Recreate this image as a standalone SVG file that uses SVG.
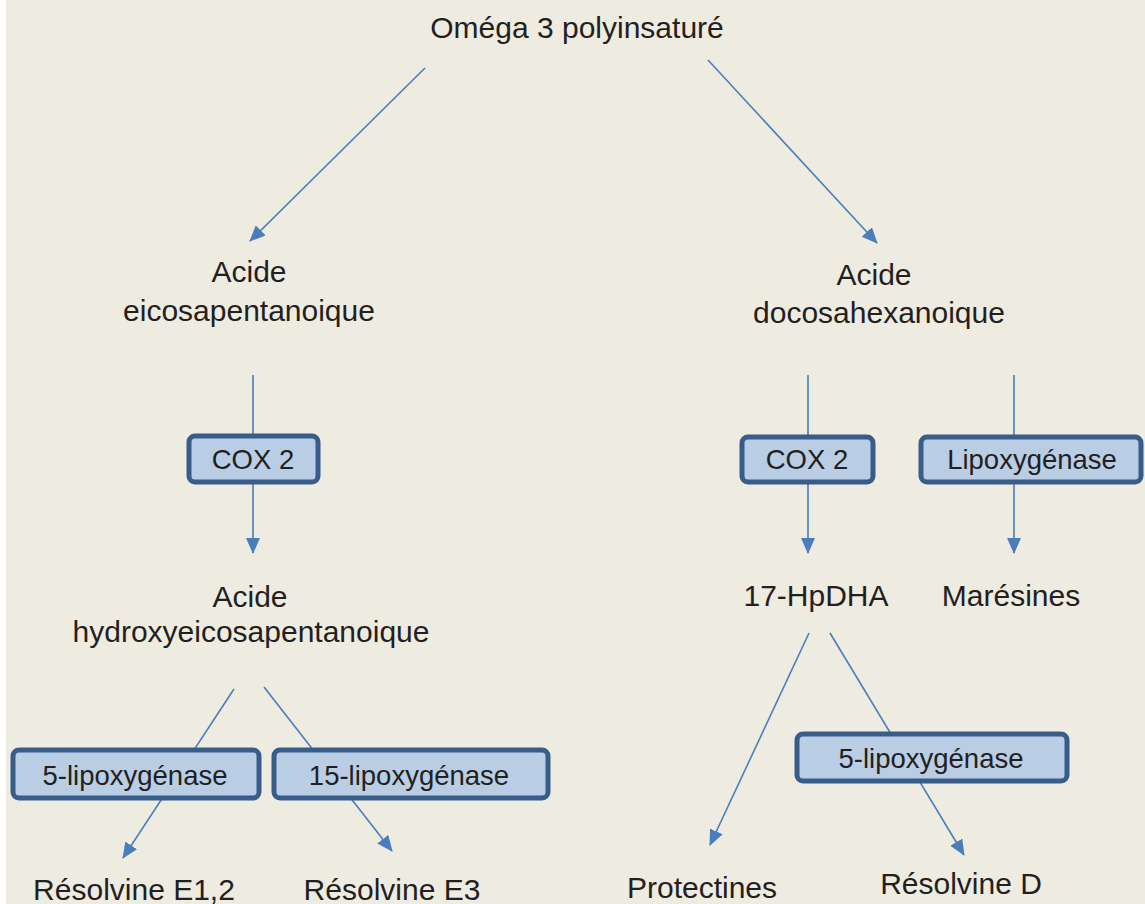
<svg xmlns="http://www.w3.org/2000/svg" width="1145" height="904" viewBox="0 0 1145 904">
<defs>
<marker id="ah" markerUnits="userSpaceOnUse" markerWidth="18" markerHeight="16" refX="15" refY="7" orient="auto">
<path d="M0,0 L16,7 L0,14 Z" fill="#4A7EBB"/>
</marker>
<style>
.t{font-family:"Liberation Sans",Arial,sans-serif;font-size:30px;fill:#231F20;text-anchor:middle}
.bt{font-family:"Liberation Sans",Arial,sans-serif;font-size:27.5px;fill:#231F20;text-anchor:middle}
.box{fill:#B9CDE5;stroke:#385D8A;stroke-width:5}
.c{stroke:#4A7EBB;stroke-width:1.6;fill:none}
.a{marker-end:url(#ah)}
</style>
</defs>
<rect x="0" y="0" width="1145" height="904" fill="#FFFFFF"/>
<rect x="6" y="0" width="1139" height="904" fill="#EEEBE0"/>
<g id="connectors">
<line class="c a" x1="425" y1="68" x2="250" y2="241"/>
<line class="c a" x1="708" y1="60" x2="877" y2="243"/>
<line class="c" x1="253" y1="375" x2="253" y2="436"/>
<line class="c a" x1="253" y1="482" x2="253" y2="553"/>
<line class="c" x1="808" y1="375" x2="808" y2="437"/>
<line class="c a" x1="808" y1="482" x2="808" y2="553"/>
<line class="c" x1="1014" y1="375" x2="1014" y2="437"/>
<line class="c a" x1="1014" y1="482" x2="1014" y2="553"/>
<line class="c a" x1="234" y1="689" x2="123" y2="858"/>
<line class="c a" x1="264" y1="687" x2="392" y2="851"/>
<line class="c a" x1="809" y1="633" x2="710" y2="845"/>
<line class="c a" x1="830" y1="633" x2="964" y2="855"/>
</g>
<g id="n-omega"><text class="t" x="577" y="38">Oméga 3 polyinsaturé</text></g>
<g id="n-epa"><text class="t" x="249" y="282">Acide</text><text class="t" x="249" y="321">eicosapentanoique</text></g>
<g id="n-dha"><text class="t" x="874" y="285">Acide</text><text class="t" x="879" y="323">docosahexanoique</text></g>
<g id="n-cox2-left"><rect class="box" x="189" y="436" width="129" height="46" rx="6"/><text class="bt" x="253" y="469">COX 2</text></g>
<g id="n-cox2-right"><rect class="box" x="742" y="437" width="131" height="45" rx="6"/><text class="bt" x="807" y="469">COX 2</text></g>
<g id="n-lipox"><rect class="box" x="921" y="437" width="220" height="45" rx="6"/><text class="bt" x="1032" y="469">Lipoxygénase</text></g>
<g id="n-hepa"><text class="t" x="250" y="607">Acide</text><text class="t" x="251" y="642">hydroxyeicosapentanoique</text></g>
<g id="n-hpdha"><text class="t" x="816" y="606">17-HpDHA</text></g>
<g id="n-maresines"><text class="t" x="1011" y="606">Marésines</text></g>
<g id="n-5lipo-left"><rect class="box" x="13" y="750" width="246" height="48" rx="6"/><text class="bt" x="135" y="785">5-lipoxygénase</text></g>
<g id="n-15lipo"><rect class="box" x="274" y="750" width="274" height="48" rx="6"/><text class="bt" x="409" y="785">15-lipoxygénase</text></g>
<g id="n-5lipo-right"><rect class="box" x="797" y="734" width="270" height="47" rx="6"/><text class="bt" x="931" y="768">5-lipoxygénase</text></g>
<g id="n-rese12"><text class="t" x="134" y="900">Résolvine E1,2</text></g>
<g id="n-rese3"><text class="t" x="392" y="900">Résolvine E3</text></g>
<g id="n-protectines"><text class="t" x="702" y="898">Protectines</text></g>
<g id="n-resd"><text class="t" x="961" y="894">Résolvine D</text></g>
</svg>
